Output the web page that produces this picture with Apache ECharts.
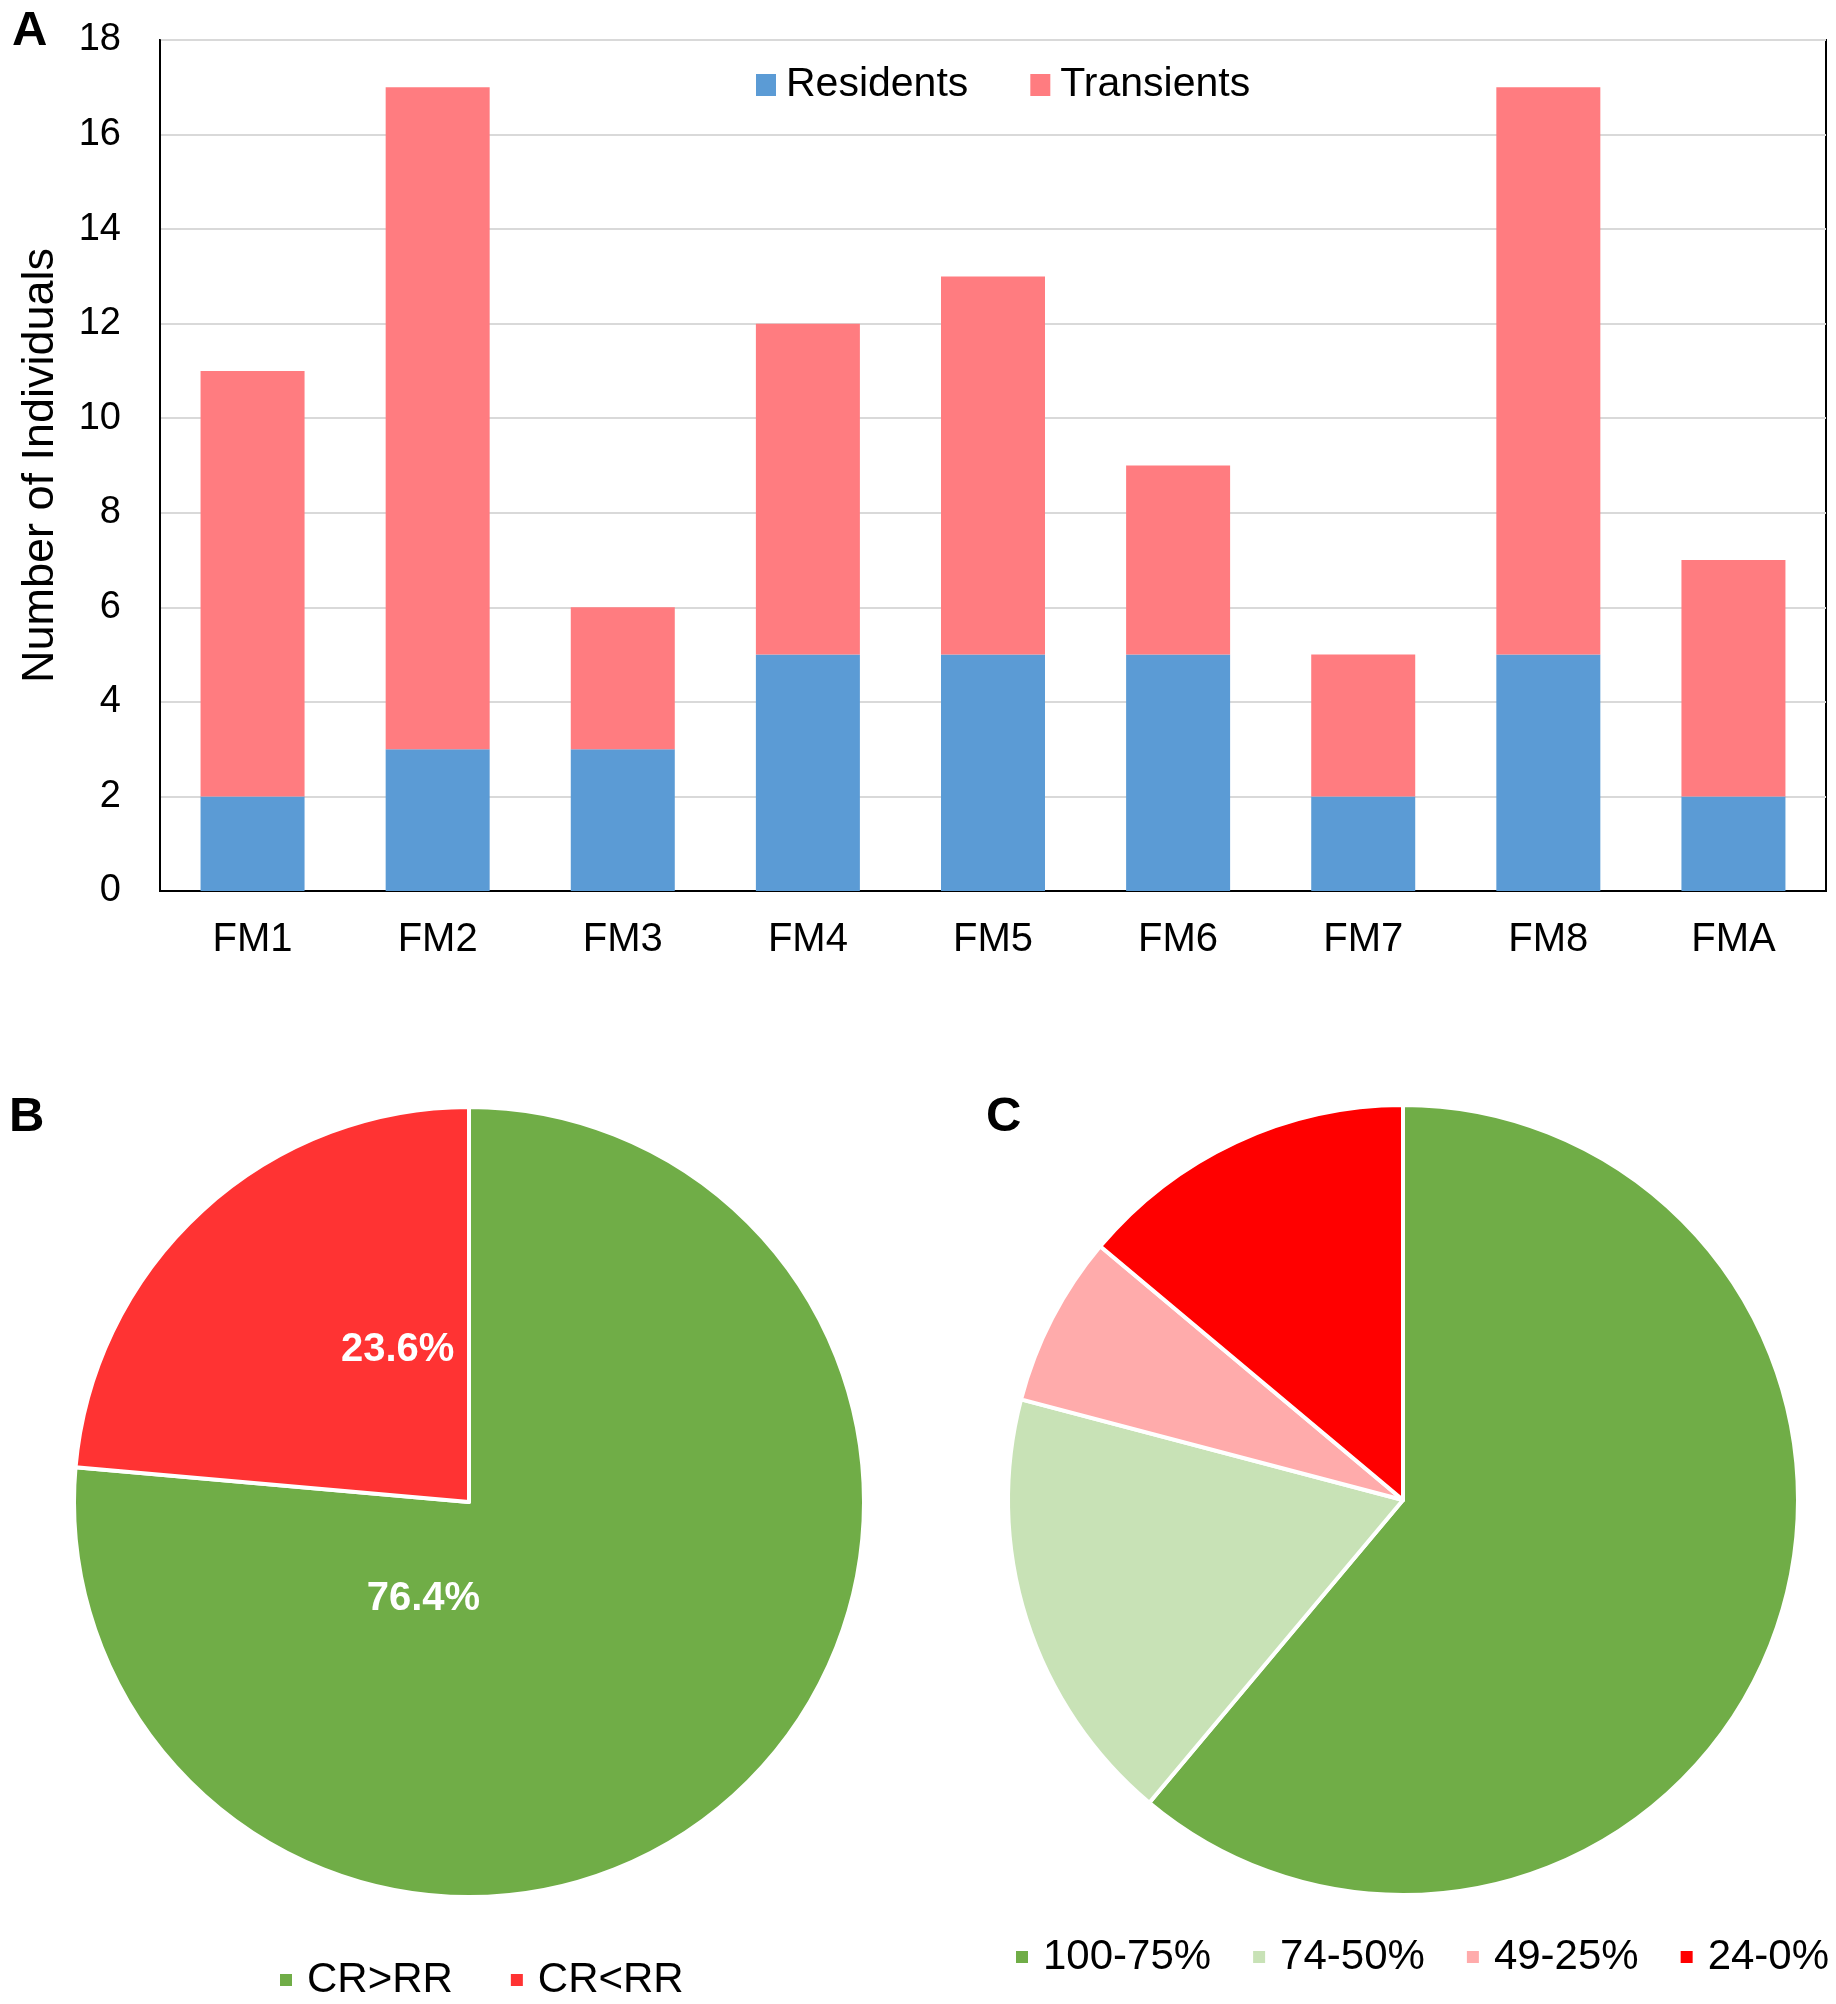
<!DOCTYPE html>
<html lang="en">
<head>
    <meta charset="UTF-8">
    <title>Residents / transients and pies</title>
    <script src="https://cdn.jsdelivr.net/npm/echarts@6/dist/echarts.min.js"></script>
    <style>
        html, body { margin: 0; padding: 0; background: #fff; }
        #main { width: 1836px; height: 2004px; }
    </style>
</head>
<body>
    <div id="main"></div>
    <script type="text/javascript">
        var FONT = '"Liberation Sans", Arial, sans-serif';

        // panel A
        var categories = ['FM1', 'FM2', 'FM3', 'FM4', 'FM5', 'FM6', 'FM7', 'FM8', 'FMA'];
        var residents = [2, 3, 3, 5, 5, 5, 2, 5, 2];
        var transients = [9, 14, 3, 7, 8, 4, 3, 12, 5];
        var yTicks = [0, 2, 4, 6, 8, 10, 12, 14, 16, 18];

        // panel B
        var pieBNames = ['CR>RR', 'CR<RR'];
        var pieBValues = [76.4, 23.6];

        // panel C
        var pieCNames = ['100-75%', '74-50%', '49-25%', '24-0%'];
        var pieCValues = [61.1, 18.0, 7.0, 13.9];

        var myChart = echarts.init(document.getElementById('main'));

        var pieBColors = ['#70AD47', '#FF3333'];
        var pieCColors = ['#70AD47', '#C8E2B6', '#FFABAB', '#FF0000'];
        // Excel put the labels off the mid angle, nudge them there
        var pieBOffsets = [[-181, -51], [64, -4]];

        function letter(t, x, y) {
            return {
                text: t, left: x, top: y, padding: 0,
                textStyle: { fontSize: 49, fontWeight: 'bold', color: '#000', fontFamily: FONT }
            };
        }

        var option = {
            animation: false,
            backgroundColor: '#fff',
            textStyle: { fontFamily: FONT },
            title: [
                letter('A', 12, 7),
                letter('B', 9, 1093),
                letter('C', 986, 1093)
            ],
            legend: [
                {
                    data: ['Residents', 'Transients'],
                    left: 756, top: 64, padding: 0,
                    itemWidth: 20, itemHeight: 22, itemGap: 62,
                    icon: 'rect',
                    textStyle: { fontSize: 41, color: '#000', lineHeight: 42, padding: [0, 0, 0, 5], fontFamily: FONT }
                },
                {
                    data: pieBNames,
                    left: 278, top: 1959, padding: 0,
                    itemWidth: 14, itemHeight: 14, itemGap: 56,
                    icon: 'rect',
                    textStyle: { fontSize: 42, color: '#000', lineHeight: 42, padding: [0, 0, 0, 9], fontFamily: FONT }
                },
                {
                    data: pieCNames,
                    left: 1014, top: 1936, padding: 0,
                    itemWidth: 14, itemHeight: 14, itemGap: 40,
                    icon: 'rect',
                    textStyle: { fontSize: 42, color: '#000', lineHeight: 42, padding: [0, 0, 0, 9], fontFamily: FONT }
                }
            ],
            grid: {
                left: 160, right: 10, top: 40, bottom: 1113,
                show: true, borderColor: '#000', borderWidth: 2,
                containLabel: false,
                outerBoundsMode: 'none'
            },
            xAxis: {
                type: 'category',
                data: categories,
                axisTick: { show: false },
                axisLine: { lineStyle: { color: '#000', width: 2 } },
                axisLabel: { fontSize: 40, color: '#000', margin: 29, fontFamily: FONT }
            },
            yAxis: {
                type: 'value',
                min: yTicks[0],
                max: yTicks[yTicks.length - 1],
                interval: 2,
                name: 'Number of Individuals',
                nameLocation: 'middle',
                nameRotate: 90,
                nameGap: 97,
                nameTextStyle: { fontSize: 45, color: '#000', fontFamily: FONT },
                axisLine: { show: true, lineStyle: { color: '#000', width: 2 } },
                axisTick: { show: false },
                axisLabel: { fontSize: 38, color: '#000', margin: 39, fontFamily: FONT },
                splitLine: { lineStyle: { color: '#D9D9D9', width: 2 } }
            },
            series: [
                {
                    name: 'Residents',
                    type: 'bar',
                    stack: 'total',
                    barWidth: 104,
                    itemStyle: { color: '#5B9BD5' },
                    data: residents
                },
                {
                    name: 'Transients',
                    type: 'bar',
                    stack: 'total',
                    barWidth: 104,
                    itemStyle: { color: '#FF7C80' },
                    data: transients
                },
                {
                    name: 'B',
                    type: 'pie',
                    center: [469, 1502],
                    radius: 395,
                    startAngle: 90,
                    clockwise: true,
                    itemStyle: { borderColor: '#fff', borderWidth: 4 },
                    label: {
                        show: true,
                        position: 'inside',
                        color: '#fff',
                        fontSize: 40,
                        fontWeight: 'bold',
                        fontFamily: FONT,
                        formatter: function (p) { return p.value.toFixed(1) + '%'; }
                    },
                    labelLine: { show: false },
                    data: pieBNames.map(function (n, i) {
                        return {
                            name: n, value: pieBValues[i],
                            itemStyle: { color: pieBColors[i] },
                            label: { offset: pieBOffsets[i] }
                        };
                    })
                },
                {
                    name: 'C',
                    type: 'pie',
                    center: [1403, 1500],
                    radius: 395,
                    startAngle: 90,
                    clockwise: true,
                    itemStyle: { borderColor: '#fff', borderWidth: 4 },
                    label: { show: false },
                    labelLine: { show: false },
                    data: pieCNames.map(function (n, i) {
                        return { name: n, value: pieCValues[i], itemStyle: { color: pieCColors[i] } };
                    })
                }
            ]
        };

        myChart.setOption(option);
    </script>
</body>
</html>
